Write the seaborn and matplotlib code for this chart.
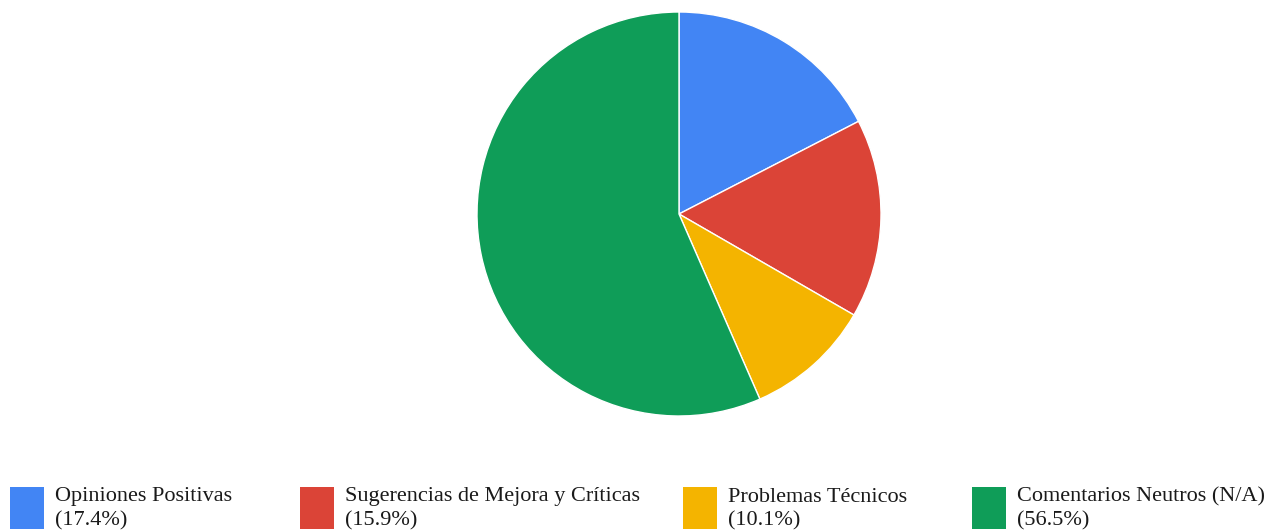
import seaborn as sns
import matplotlib.pyplot as plt
from matplotlib.patches import Rectangle

sns.set_theme(style="white")
plt.rcParams["font.family"] = ["Liberation Serif", "DejaVu Serif"]

# datos
categorias = ["Opiniones Positivas", "Sugerencias de Mejora y Críticas",
              "Problemas Técnicos", "Comentarios Neutros (N/A)"]
porcentajes = [17.4, 15.9, 10.1, 56.5]
colores = ["#4285F4", "#DB4437", "#F4B400", "#0F9D58"]

fig = plt.figure(figsize=(12.67, 5.31), dpi=100)
W, H = 1267, 531

# pie centrado en (679, 214) px, radio ~202 px
r = 202
ax = fig.add_axes([(679 - r) / W, (H - 214 - r) / H, 2 * r / W, 2 * r / H])
ax.pie(porcentajes, colors=colores, startangle=90, counterclock=False,
       wedgeprops=dict(edgecolor="white", linewidth=1))
ax.set_xlim(-1, 1)
ax.set_ylim(-1, 1)
ax.set_aspect("equal")
ax.axis("off")

# leyenda abajo
xs = [10, 300, 683, 972]
for x, cat, p, c in zip(xs, categorias, porcentajes, colores):
    fig.patches.append(Rectangle((x / W, (H - 529) / H), 34 / W, 42 / H,
                                 transform=fig.transFigure, facecolor=c,
                                 edgecolor="none"))
    fig.text((x + 45) / W, (H - 497) / H, cat, fontsize=16,
             va="center", ha="left", color="#1a1a1a")
    fig.text((x + 45) / W, (H - 521) / H, f"({p}%)", fontsize=16,
             va="center", ha="left", color="#1a1a1a")

fig.savefig("out.png", dpi=100)
